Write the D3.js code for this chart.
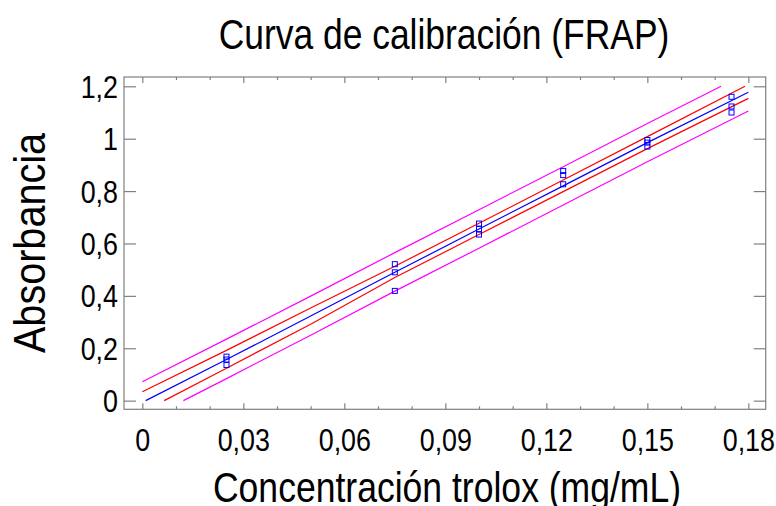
<!DOCTYPE html>
<html><head><meta charset="utf-8">
<script src="https://cdn.jsdelivr.net/npm/d3@7"></script>
<style>
html,body{margin:0;padding:0;background:#fff;}
svg{display:block;}
text{font-family:"Liberation Sans",Arial,sans-serif;fill:#000;}
</style></head>
<body><svg id="c" width="776" height="506"></svg>
<script>
// ---- data ----
const pointX = [0.025,0.025,0.025, 0.075,0.075,0.075, 0.1,0.1,0.1, 0.125,0.125,0.125, 0.15,0.15,0.15, 0.175,0.175,0.175];
const pointY = [0.168,0.157,0.136, 0.521,0.490,0.419, 0.676,0.655,0.634, 0.877,0.861,0.826, 0.995,0.985,0.970, 1.160,1.123,1.100];

const fitX    = [0.001, 0.025, 0.05, 0.075, 0.1, 0.125, 0.15, 0.18];
const fitY    = [0, 0.157, 0.323, 0.490, 0.655, 0.820, 0.985, 1.177];
const confUpX = [0, 0.025, 0.05, 0.075, 0.1, 0.125, 0.15, 0.179];
const confUpY = [0.034, 0.192, 0.354, 0.513, 0.677, 0.842, 1.008, 1.2];
const confLoX = [0.0065, 0.025, 0.05, 0.075, 0.1, 0.125, 0.15, 0.18];
const confLoY = [0, 0.124, 0.292, 0.470, 0.634, 0.798, 0.962, 1.154];
const predUpX = [0, 0.025, 0.05, 0.075, 0.1, 0.125, 0.15, 0.1719];
const predUpY = [0.0725, 0.235, 0.399, 0.565, 0.729, 0.893, 1.058, 1.2];
const predLoX = [0.0122, 0.025, 0.05, 0.075, 0.1, 0.125, 0.15, 0.18];
const predLoY = [0, 0.084, 0.250, 0.418, 0.582, 0.747, 0.912, 1.106];

const xMajorTicks = [0, 0.03, 0.06, 0.09, 0.12, 0.15, 0.18];
const xMinorTicks = [0.01,0.02,0.04,0.05,0.07,0.08,0.10,0.11,0.13,0.14,0.16,0.17];
const yTicks = [0, 0.2, 0.4, 0.6, 0.8, 1.0, 1.2];

const titleText = "Curva de calibración (FRAP)";
const xLabel = "Concentración trolox (mg/mL)";
const yLabel = "Absorbancia";

// ---- layout ----
const L = 124, R = 765.7, T = 77, B = 409.3;
const svg = d3.select("#c");
const x = d3.scaleLinear().domain([-0.00544, 0.18515]).range([L, R]);
const y = d3.scaleLinear().domain([-0.033, 1.2355]).range([B, T]);
const loc = d3.formatLocale({decimal:",", thousands:".", grouping:[3], currency:["","€"]});
const fmt = loc.format(".2~f");
const frameColor = "#808080";
const SXT = 0.84; // horizontal condensation of tick text

// frame
svg.append("rect").attr("x",L).attr("y",T).attr("width",R-L).attr("height",B-T)
  .attr("fill","none").attr("stroke",frameColor).attr("stroke-width",1.2);

function styleAxis(g){
  g.select(".domain").remove();
  g.selectAll(".tick line").attr("stroke",frameColor).attr("stroke-width",1.2);
}
// bottom axis
const gxb = svg.append("g").attr("transform",`translate(0,${B})`)
  .call(d3.axisBottom(x).tickValues(xMajorTicks).tickSizeInner(-6).tickSizeOuter(0).tickPadding(0).tickFormat(fmt));
styleAxis(gxb);
gxb.selectAll(".tick text").attr("font-size",32).attr("y",0).attr("dy",0)
  .attr("transform",`translate(0,42) scale(${SXT},1)`).attr("fill","#000");
svg.append("g").attr("transform",`translate(0,${B})`)
  .call(d3.axisBottom(x).tickValues(xMinorTicks).tickSizeInner(-3).tickSizeOuter(0).tickFormat(""))
  .call(styleAxis);
// top axis
svg.append("g").attr("transform",`translate(0,${T})`)
  .call(d3.axisTop(x).tickValues(xMajorTicks).tickSizeInner(-6).tickSizeOuter(0).tickFormat(""))
  .call(styleAxis);
svg.append("g").attr("transform",`translate(0,${T})`)
  .call(d3.axisTop(x).tickValues(xMinorTicks).tickSizeInner(-3).tickSizeOuter(0).tickFormat(""))
  .call(styleAxis);
// left axis
const gyl = svg.append("g").attr("transform",`translate(${L},0)`)
  .call(d3.axisLeft(y).tickValues(yTicks).tickSizeInner(-12).tickSizeOuter(0).tickPadding(0).tickFormat(fmt));
styleAxis(gyl);
gyl.selectAll(".tick text").attr("font-size",32).attr("x",0).attr("dy",0)
  .attr("text-anchor","end")
  .attr("transform",`translate(-6,11) scale(${SXT},1)`).attr("fill","#000");
// right axis
svg.append("g").attr("transform",`translate(${R},0)`)
  .call(d3.axisRight(y).tickValues(yTicks).tickSizeInner(-12).tickSizeOuter(0).tickFormat(""))
  .call(styleAxis);

// lines
const line = d3.line().x(d=>x(d[0])).y(d=>y(d[1]));
const series = [
  {xs:predUpX, ys:predUpY, c:"#ff00ff"},
  {xs:predLoX, ys:predLoY, c:"#ff00ff"},
  {xs:confUpX, ys:confUpY, c:"#ff0000"},
  {xs:confLoX, ys:confLoY, c:"#ff0000"},
  {xs:fitX, ys:fitY, c:"#0000ff"}
];
series.forEach(s=>{
  svg.append("path").attr("d", line(s.xs.map((v,i)=>[v,s.ys[i]])))
    .attr("fill","none").attr("stroke",s.c).attr("stroke-width",1.2);
});

// points
svg.append("g").selectAll("rect").data(pointX.map((v,i)=>[v,pointY[i]])).join("rect")
  .attr("x",d=>x(d[0])-2.5).attr("y",d=>y(d[1])-2.5).attr("width",5).attr("height",5)
  .attr("fill","none").attr("stroke","#0000ff").attr("stroke-width",1);

// titles
svg.append("text").attr("font-size",43).attr("text-anchor","middle")
  .attr("transform",`translate(444,49) scale(0.824,1)`).text(titleText);
svg.append("text").attr("font-size",43).attr("text-anchor","middle")
  .attr("transform",`translate(447,502) scale(0.827,1)`).text(xLabel);
svg.append("text").attr("font-size",44).attr("text-anchor","middle")
  .attr("transform",`translate(45,243) rotate(-90) scale(0.9,1)`).text(yLabel);
</script></body></html>
